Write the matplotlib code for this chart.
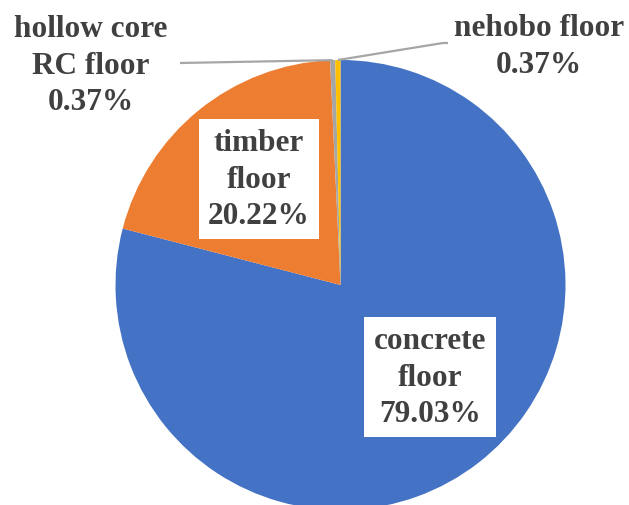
import numpy as np
import matplotlib.pyplot as plt

# floor types, drawn clockwise from 12 o'clock
floor_types = ["concrete\nfloor", "timber\nfloor", "hollow core\nRC floor", "nehobo floor"]
shares = [79.03, 20.22, 0.37, 0.37]
colors = ["#4472C4", "#ED7D31", "#A5A5A5", "#FFC000"]

W, H = 629, 506
fig = plt.figure(figsize=(W / 100, H / 100), dpi=100)
ax = fig.add_axes([0, 0, 1, 1])

cx, cy, r = 340.5, H - 286, 225
wedges, _ = ax.pie(shares, colors=colors, startangle=90, counterclock=False,
                   center=(cx, cy), radius=r, normalize=True)
ax.set_xlim(0, W)
ax.set_ylim(0, H)
ax.set_aspect("equal")
ax.axis("off")

font = dict(family="Liberation Serif", weight="bold", size=22.5, color="#404040",
            ha="center", va="center", linespacing=1.34)
box = dict(boxstyle="square,pad=0.3", fc="white", ec="none")

def label_text(i):
    return f"{floor_types[i]}\n{shares[i]:.2f}%"

# labels inside the two big slices
ax.text(430, H - 378, label_text(0), bbox=box, **font)
ax.text(259, H - 180, label_text(1), bbox=box, **font)

# small slices get outside labels with leader lines
def rim_point(w):
    a = np.deg2rad((w.theta1 + w.theta2) / 2)
    return cx + r * np.cos(a), cy + r * np.sin(a)

ax.text(91, H - 66, label_text(2), **font)
px, py = rim_point(wedges[2])
ax.plot([180, px], [H - 64, py], color="#A6A6A6", lw=1.6, solid_capstyle="butt")

ax.text(539, H - 47, label_text(3), **font)
px, py = rim_point(wedges[3])
ax.plot([448, 443, px], [H - 44, H - 44, py], color="#A6A6A6", lw=1.6,
        solid_capstyle="butt")

fig.savefig("out.png", dpi=100)
